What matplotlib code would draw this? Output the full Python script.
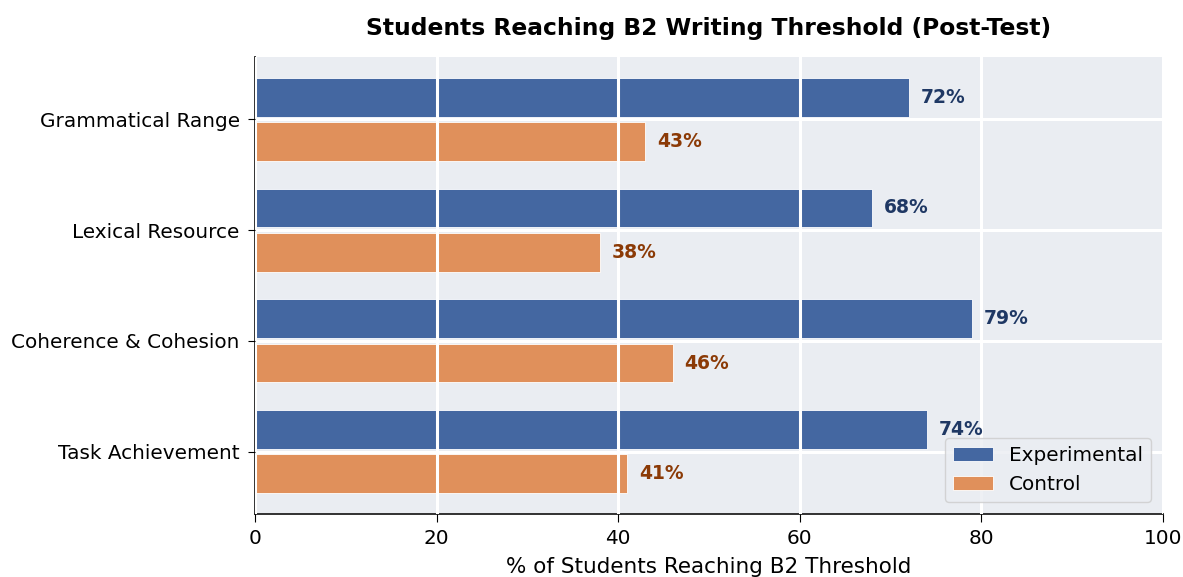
import matplotlib
matplotlib.use("Agg")
import matplotlib.pyplot as plt
import numpy as np

categories = ["Task Achievement", "Coherence & Cohesion", "Lexical Resource", "Grammatical Range"]
experimental = [74, 79, 68, 72]
control = [41, 46, 38, 43]

fig = plt.figure(figsize=(11.83, 5.77), dpi=100)
ax = fig.add_axes([255/1183, 1-514/577, (1163-255)/1183, (514-57)/577])
ax.set_facecolor("#eaedf2")

y = np.arange(len(categories))
h = 0.35
off = 0.2
ax.barh(y + off, experimental, height=h, color="#4467a1", edgecolor="white", linewidth=0.6, label="Experimental")
ax.barh(y - off, control, height=h, color="#e0905b", edgecolor="white", linewidth=0.6, label="Control")

for yi, v in zip(y, experimental):
    ax.text(v + 1.3, yi + off, f"{v}%", va="center", ha="left", fontsize=13.5, fontweight="bold", color="#1f3864")
for yi, v in zip(y, control):
    ax.text(v + 1.3, yi - off, f"{v}%", va="center", ha="left", fontsize=13.5, fontweight="bold", color="#8b3a06")

ax.set_xlim(0, 100)
ax.set_yticks(y)
ax.set_yticklabels(categories, fontsize=14.4)
ax.set_xticks([0, 20, 40, 60, 80, 100])
ax.tick_params(axis="x", labelsize=14.4, length=6, pad=5)
ax.tick_params(axis="y", length=5, pad=6)
ax.set_xlabel("% of Students Reaching B2 Threshold", fontsize=15.5, labelpad=6)
ax.set_title("Students Reaching B2 Writing Threshold (Post-Test)", fontsize=16.8, fontweight="bold", pad=16)

ax.grid(True, color="white", linewidth=2.2)
ax.set_axisbelow(False)
for s in ["top", "right"]:
    ax.spines[s].set_visible(False)
ax.spines["left"].set_color("#222222")
ax.spines["bottom"].set_color("#222222")
ax.spines["left"].set_linewidth(1.3)
ax.spines["bottom"].set_linewidth(1.3)

ax.legend(loc="lower right", fontsize=14.4, facecolor="#eaedf2", edgecolor="#cccccc", handlelength=2, borderaxespad=0.6)

fig.savefig("out.png", dpi=100)
